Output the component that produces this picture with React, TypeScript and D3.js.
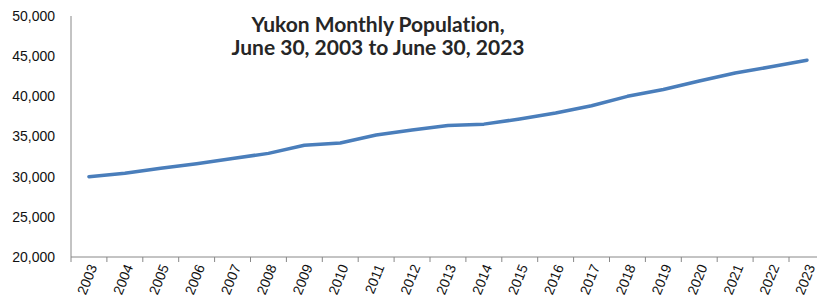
import React from 'react';
import * as d3 from 'd3';

// June 30 population
const years = [
  '2003', '2004', '2005', '2006', '2007', '2008', '2009', '2010', '2011', '2012', '2013',
  '2014', '2015', '2016', '2017', '2018', '2019', '2020', '2021', '2022', '2023'
];
const population = [
  30000, 30420, 31040, 31620, 32270, 32900, 33920, 34200, 35180, 35810, 36370,
  36540, 37180, 37920, 38820, 40000, 40860, 41900, 42900, 43680, 44500
];
const yTicks = [20000, 25000, 30000, 35000, 40000, 45000, 50000];
const titleLines = ['Yukon Monthly Population,', 'June 30, 2003 to June 30, 2023'];

const W = 817;
const H = 303;
const left = 71;
const top = 16;
const bottom = 257;
const band = 35.9;

export default function App() {
  const x = d3.scaleBand<string>()
    .domain(years)
    .range([left, left + band * years.length])
    .paddingInner(0)
    .paddingOuter(0);
  const y = d3.scaleLinear().domain([20000, 50000]).range([bottom, top]);

  const data = years.map((yr, i) => ({ yr, v: population[i] }));
  const line = d3.line<{ yr: string; v: number }>()
    .x(d => (x(d.yr) as number) + x.bandwidth() / 2)
    .y(d => y(d.v));

  const fmt = d3.format(',');
  const font = '"Liberation Sans", Arial, sans-serif';

  return (
    <svg width={W} height={H} style={{ position: 'absolute', left: 0, top: 0, background: '#fff' }}>
      {/* axes */}
      <line x1={left} x2={left} y1={top} y2={bottom} stroke="#888" strokeWidth={1} />
      <line x1={left} x2={W} y1={bottom} y2={bottom} stroke="#888" strokeWidth={1} />
      {years.map(yr => (
        <line key={'t' + yr} x1={x(yr)} x2={x(yr)} y1={bottom} y2={bottom + 5} stroke="#888" strokeWidth={1} />
      ))}

      {yTicks.map(t => (
        <text key={t} x={55} y={y(t)} dy="0.35em" textAnchor="end"
          fontFamily={font} fontSize={14} fill="#111">{fmt(t)}</text>
      ))}

      {years.map(yr => {
        const cx = (x(yr) as number) + x.bandwidth() / 2 + 4;
        const cy = bottom + 8;
        return (
          <text key={'l' + yr} x={cx} y={cy} textAnchor="end" dy="0.35em"
            transform={`rotate(-68, ${cx}, ${cy})`}
            fontFamily={font} fontSize={14} fill="#111">{yr}</text>
        );
      })}

      <path d={line(data) || ''} fill="none" stroke="#4a7ebb" strokeWidth={3.5}
        strokeLinejoin="round" strokeLinecap="round" />

      {titleLines.map((t, i) => (
        <text key={i} x={378} y={31.5 + i * 23} textAnchor="middle"
          style={{ fontVariantLigatures: 'none' }}
          fontFamily="Lato, sans-serif" fontWeight="bold" fontSize={21} fill="#262626">{t}</text>
      ))}
    </svg>
  );
}
